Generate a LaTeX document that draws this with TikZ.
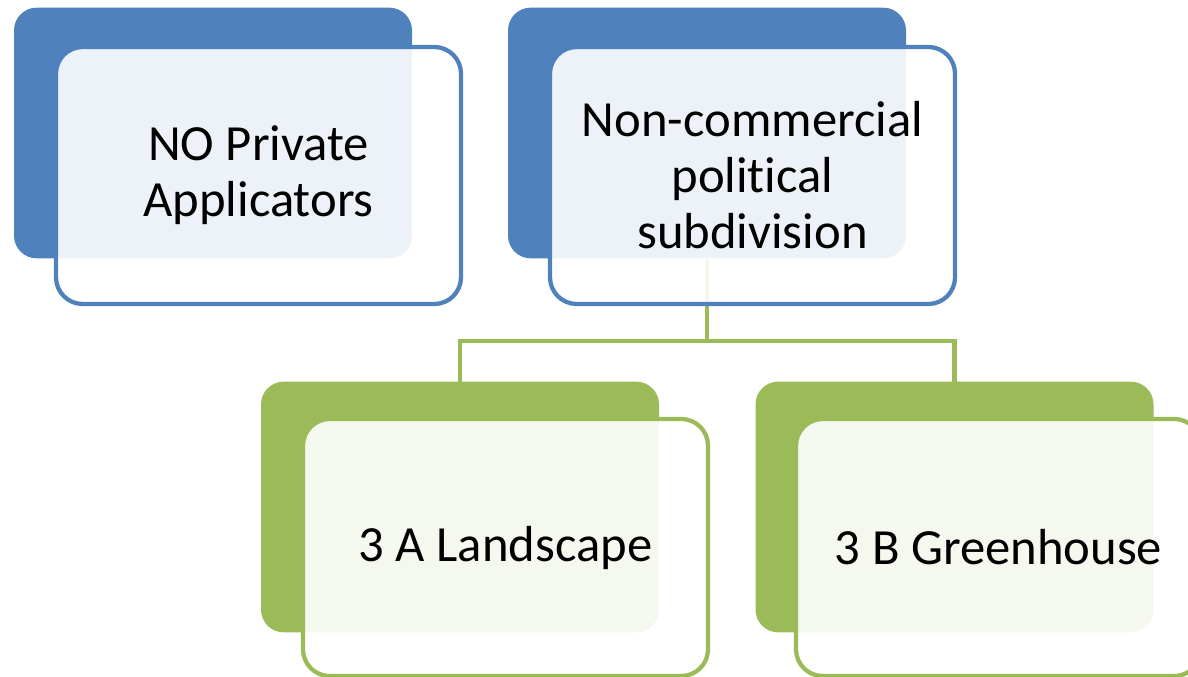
\documentclass[tikz,border=0pt]{standalone}
\usepackage{fontspec}
\setmainfont[Ligatures=NoCommon]{Carlito}
\usepackage{tikz}

\begin{document}
\begin{tikzpicture}[x=0.75pt,y=0.75pt,yscale=-1,xscale=1,
  backcard/.style={rounded corners=17pt, minimum width=298.5pt, minimum height=188pt, inner sep=0pt},
  frontcard/.style={line width=3.2pt, rounded corners=20pt, fill=white, fill opacity=0.9, text opacity=1,
    minimum width=303.75pt, minimum height=192.75pt, inner sep=0pt, align=center, text=black,
    font=\fontsize{38}{42}\selectfont},
  bluecard/.style={fill={rgb, 255:red, 79; green, 129; blue, 189}},
  greencard/.style={fill={rgb, 255:red, 155; green, 187; blue, 89}},
  blueline/.style={draw={rgb, 255:red, 79; green, 129; blue, 189}},
  greenline/.style={draw={rgb, 255:red, 155; green, 187; blue, 89}},
  link/.style={draw={rgb, 255:red, 155; green, 187; blue, 89}, line width=3.5pt}
]
\useasboundingbox (0,0) rectangle (1188,677);

%Back cards
\node [backcard, bluecard] (priv back) at (213,133) {};
\node [backcard, bluecard] (pol back) at (707,133) {};
\node [backcard, greencard] (land back) at (460,507) {};
\node [backcard, greencard] (green back) at (954.5,507) {};

%Connector lines
\draw [link] (pol back.south) -- (pol back.south |- 0,341) -| ([yshift=5.25pt]land back.north) ;
\draw [link] (pol back.south |- 0,341) -| ([yshift=5.25pt]green back.north) ;

%Front cards with text
\node [frontcard, blueline] (priv) at (258.5,175.5) {NO Private\\Applicators};
\node [frontcard, blueline] (pol) at (752.5,175.5) {Non-commercial\\political\\subdivision};
\node [frontcard, greenline] (land) at (505.5,547.5) {3 A Landscape};
\node [frontcard, greenline] (green) at (998.5,547.5) {3 B Greenhouse};

\end{tikzpicture}
\end{document}
